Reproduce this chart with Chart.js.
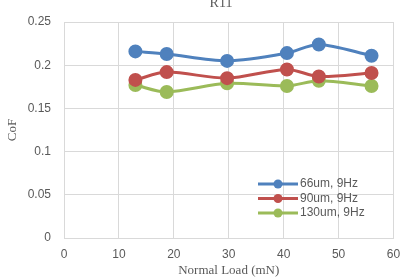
<!DOCTYPE html>
<html>
<head>
<meta charset="utf-8">
<script src="https://cdn.jsdelivr.net/npm/chart.js@4.4.0/dist/chart.umd.min.js"></script>
<style>
  html, body { margin: 0; padding: 0; background: #fff; }
  canvas { display: block; }
</style>
</head>
<body>
<canvas id="cof" width="402" height="280"></canvas>
<script>
// R11 — CoF vs normal load
const LOADS = [13.0, 18.7, 29.7, 40.6, 46.4, 56.0];
const COF_66 = [0.216, 0.213, 0.205, 0.214, 0.224, 0.211];
const COF_90 = [0.183, 0.192, 0.185, 0.195, 0.187, 0.191];
const COF_130 = [0.177, 0.169, 0.179, 0.176, 0.182, 0.176];
const SERIES_LABELS = ['66um, 9Hz', '90um, 9Hz', '130um, 9Hz'];
const COLORS = ['#4F81BD', '#C0504D', '#9BBB59'];
const X_TICKS = [0, 10, 20, 30, 40, 50, 60];
const Y_TICKS = [0, 0.05, 0.1, 0.15, 0.2, 0.25];

const SANS = '"Liberation Sans", Arial, sans-serif';
const SERIF = '"Liberation Serif", "Times New Roman", serif';
const TEXT = '#595959';
const GRID = '#d9d9d9';

function toPoints(ys) {
  return LOADS.map((x, i) => ({ x: x, y: ys[i] }));
}

// ── Title + in-plot legend ─────────────────────────────────────
const overlay = {
  id: 'overlay',
  afterDraw(chart) {
    const ctx = chart.ctx;
    ctx.save();
    ctx.fillStyle = TEXT;
    ctx.font = '14px ' + SERIF;
    ctx.textAlign = 'center';
    ctx.textBaseline = 'alphabetic';
    ctx.fillText('R11', 221, 7);

    const rows = [184, 198.5, 213];
    ctx.textBaseline = 'middle';
    chart.data.datasets.forEach((ds, i) => {
      const y = rows[i];
      ctx.strokeStyle = ds.borderColor;
      ctx.lineWidth = 3;
      ctx.beginPath();
      ctx.moveTo(258, y);
      ctx.lineTo(298, y);
      ctx.stroke();
      ctx.fillStyle = ds.backgroundColor;
      ctx.beginPath();
      ctx.arc(278, y, 4.5, 0, Math.PI * 2);
      ctx.fill();
      ctx.fillStyle = TEXT;
      ctx.font = '12px ' + SANS;
      ctx.textAlign = 'left';
      ctx.fillText(ds.label, 300, y);
    });
    ctx.restore();
  }
};

new Chart(document.getElementById('cof'), {
  type: 'scatter',
  data: {
    datasets: [COF_66, COF_90, COF_130].map((vals, i) => ({
      label: SERIES_LABELS[i],
      data: toPoints(vals),
      showLine: true,
      borderColor: COLORS[i],
      backgroundColor: COLORS[i],
      borderWidth: 3,
      pointRadius: 5.5,
      pointHoverRadius: 5.5,
      tension: 0.3,
    }))
  },
  options: {
    responsive: false,
    animation: false,
    layout: { padding: { top: 22, right: 7, bottom: 2, left: 0 } },
    plugins: {
      legend: { display: false },
      tooltip: { enabled: false },
    },
    scales: {
      x: {
        type: 'linear',
        min: 0,
        max: 60,
        afterBuildTicks: s => { s.ticks = X_TICKS.map(v => ({ value: v })); },
        afterFit: s => { s.height = 40; s.paddingRight = 0; s.paddingLeft = 0; },
        ticks: { color: TEXT, font: { family: SANS, size: 12 }, padding: 9 },
        grid: { color: GRID, drawTicks: false },
        border: { color: GRID },
        title: {
          display: true,
          text: 'Normal Load (mN)',
          color: TEXT,
          font: { family: SERIF, size: 13 },
          padding: { top: 1, bottom: 0 },
        },
      },
      y: {
        min: 0,
        max: 0.25,
        afterBuildTicks: s => { s.ticks = Y_TICKS.map(v => ({ value: v })); },
        afterFit: s => { s.width = 64; s.paddingTop = 0; s.paddingBottom = 0; },
        ticks: {
          color: TEXT,
          font: { family: SANS, size: 12 },
          padding: 13,
          callback: v => String(+v.toFixed(2)),
        },
        grid: { color: GRID, drawTicks: false },
        border: { color: GRID },
        title: {
          display: true,
          text: 'CoF',
          color: TEXT,
          font: { family: SERIF, size: 13 },
          padding: { top: 5, bottom: 0 },
        },
      },
    },
  },
  plugins: [overlay],
});
</script>
</body>
</html>
